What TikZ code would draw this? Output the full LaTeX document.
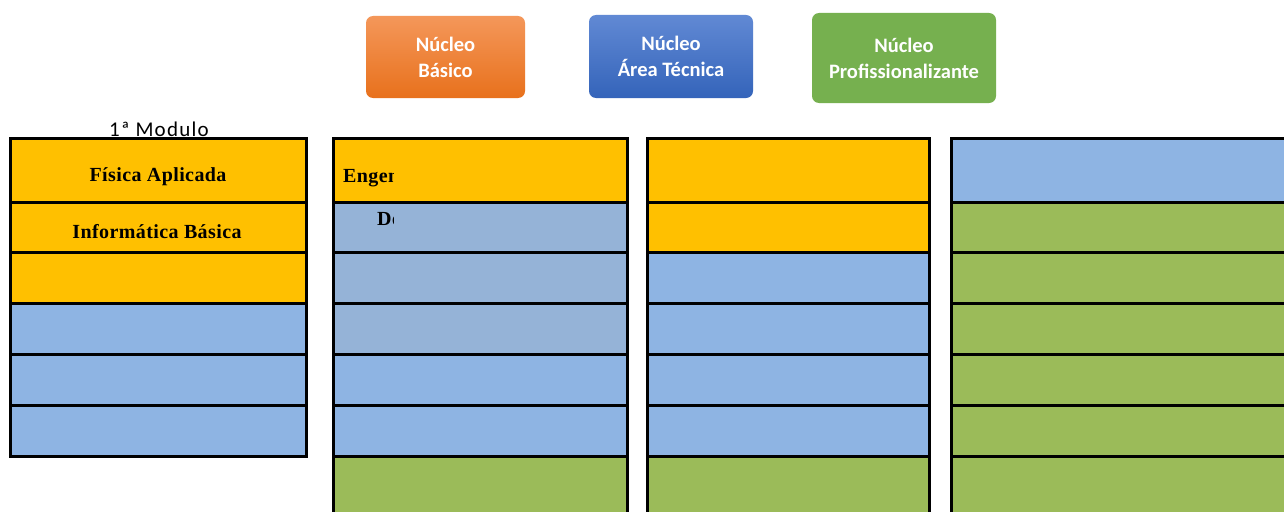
\documentclass[tikz,border=0pt]{standalone}
\usepackage{fontspec}
\setmainfont{Liberation Serif}
\newfontfamily\calibri{Carlito}
\newfontfamily\calibrispaced[LetterSpace=6]{Carlito}
\newfontfamily\cambria[LetterSpace=2]{Liberation Serif}
\definecolor{cOrange}{HTML}{FFC000}
\definecolor{cBlue}{HTML}{8EB4E3}
\definecolor{cGrayBlue}{HTML}{95B3D7}
\definecolor{cGreen}{HTML}{9BBB59}
\definecolor{lgOrangeTop}{HTML}{F4975A}
\definecolor{lgOrangeBot}{HTML}{E8711C}
\definecolor{lgBlueTop}{HTML}{6189D4}
\definecolor{lgBlueBot}{HTML}{3464BA}
\definecolor{lgGreen}{HTML}{76B04F}
\tikzset{
  cell/.style={draw=black, line width=3pt},
  legendbox/.style={align=center, text=white,
    font=\calibri\bfseries\fontsize{20.5}{26}\selectfont, inner sep=0pt},
  celltext/.style={font=\cambria\bfseries\fontsize{20}{24}\selectfont, inner sep=0pt}
}
\begin{document}
\begin{tikzpicture}[x=1pt,y=-1pt]
\useasboundingbox (0,0) rectangle (1284,511);
\fill[white] (0,0) rectangle (1284,511);

% legend
\shade[rounded corners=7pt, top color=lgOrangeTop, bottom color=lgOrangeBot] (366,16) rectangle (525,98);
\node[legendbox] (lb) at (445.5,57) {Núcleo\\Básico};
\shade[rounded corners=7pt, top color=lgBlueTop, bottom color=lgBlueBot] (589,15) rectangle (753,98);
\node[legendbox] (lt) at (671,56) {Núcleo\\Área Técnica};
\fill[rounded corners=7pt, lgGreen] (812,13) rectangle (996,103);
\node[legendbox] (lp) at (904,58) {Núcleo\\Profissionalizante};

% module title
\node[font=\calibrispaced\fontsize{21}{24}\selectfont, inner sep=0pt, anchor=base] (m1) at (159,136) {1ª Modulo};

% column 1
\foreach \ya/\yb/\c in {138/202/cOrange,202/252/cOrange,252/303/cOrange,303/354/cBlue,354/405/cBlue,405/456/cBlue}
  \filldraw[cell, fill=\c] (10,\ya) rectangle (306,\yb);
\node[celltext, anchor=base] (fa) at (158,181) {Física Aplicada};
\node[celltext, anchor=base] (ib) at (157,238) {Informática Básica};

% column 2
\foreach \ya/\yb/\c in {138/202/cOrange,202/252/cGrayBlue,252/303/cGrayBlue,303/354/cGrayBlue,354/405/cBlue,405/456/cBlue,456/540/cGreen}
  \filldraw[cell, fill=\c] (333,\ya) rectangle (627,\yb);
\begin{scope}
  \clip (330,140) rectangle (393,250);
  \node[celltext, anchor=base west] (en) at (343,182) {Engen};
  \node[celltext, anchor=base west] (de) at (377,225) {De};
\end{scope}

% column 3
\foreach \ya/\yb/\c in {138/202/cOrange,202/252/cOrange,252/303/cBlue,303/354/cBlue,354/405/cBlue,405/456/cBlue,456/540/cGreen}
  \filldraw[cell, fill=\c] (647,\ya) rectangle (929,\yb);

% column 4
\foreach \ya/\yb/\c in {138/202/cBlue,202/252/cGreen,252/303/cGreen,303/354/cGreen,354/405/cGreen,405/456/cGreen,456/540/cGreen}
  \filldraw[cell, fill=\c] (951,\ya) rectangle (1300,\yb);
\end{tikzpicture}
\end{document}
